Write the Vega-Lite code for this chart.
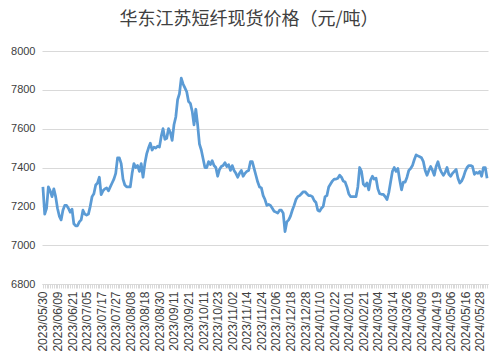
{
  "$schema": "https://vega.github.io/schema/vega-lite/v6.json",
  "width": 446,
  "height": 233,
  "autosize": {"type": "none"},
  "padding": {"left": 42, "top": 51, "right": 16, "bottom": 78},
  "background": "white",
  "title": {
    "text": "华东江苏短纤现货价格（元/吨）",
    "font": "Noto Sans CJK SC",
    "fontSize": 18,
    "fontWeight": "normal",
    "color": "#404040",
    "anchor": "middle",
    "dx": -16,
    "offset": 16
  },
  "config": {
    "view": {"stroke": null},
    "axis": {"labelFont": "Liberation Sans", "labelColor": "#404040"}
  },
  "data": {
    "values": [
      {"d":"2023/05/30","v":7300},{"d":"2023/05/31","v":7160},{"d":"2023/06/01","v":7190},{"d":"2023/06/02","v":7300},
      {"d":"2023/06/05","v":7280},{"d":"2023/06/06","v":7250},{"d":"2023/06/07","v":7290},{"d":"2023/06/08","v":7250},
      {"d":"2023/06/09","v":7190},{"d":"2023/06/12","v":7150},{"d":"2023/06/13","v":7130},{"d":"2023/06/14","v":7180},
      {"d":"2023/06/15","v":7205},{"d":"2023/06/16","v":7205},{"d":"2023/06/19","v":7190},{"d":"2023/06/20","v":7170},
      {"d":"2023/06/21","v":7185},{"d":"2023/06/26","v":7110},{"d":"2023/06/27","v":7100},{"d":"2023/06/28","v":7100},
      {"d":"2023/06/29","v":7120},{"d":"2023/06/30","v":7130},{"d":"2023/07/03","v":7180},{"d":"2023/07/04","v":7160},
      {"d":"2023/07/05","v":7155},{"d":"2023/07/06","v":7160},{"d":"2023/07/07","v":7200},{"d":"2023/07/10","v":7250},
      {"d":"2023/07/11","v":7265},{"d":"2023/07/12","v":7310},{"d":"2023/07/13","v":7320},{"d":"2023/07/14","v":7350},
      {"d":"2023/07/17","v":7260},{"d":"2023/07/18","v":7280},{"d":"2023/07/19","v":7290},{"d":"2023/07/20","v":7295},
      {"d":"2023/07/21","v":7280},{"d":"2023/07/24","v":7300},{"d":"2023/07/25","v":7320},{"d":"2023/07/26","v":7340},
      {"d":"2023/07/27","v":7370},{"d":"2023/07/28","v":7450},{"d":"2023/07/31","v":7450},{"d":"2023/08/01","v":7420},
      {"d":"2023/08/02","v":7340},{"d":"2023/08/03","v":7310},{"d":"2023/08/04","v":7300},{"d":"2023/08/07","v":7300},
      {"d":"2023/08/08","v":7300},{"d":"2023/08/09","v":7370},{"d":"2023/08/10","v":7420},{"d":"2023/08/11","v":7400},
      {"d":"2023/08/14","v":7410},{"d":"2023/08/15","v":7380},{"d":"2023/08/16","v":7420},{"d":"2023/08/17","v":7350},
      {"d":"2023/08/18","v":7420},{"d":"2023/08/21","v":7470},{"d":"2023/08/22","v":7500},{"d":"2023/08/23","v":7525},
      {"d":"2023/08/24","v":7490},{"d":"2023/08/25","v":7505},{"d":"2023/08/28","v":7500},{"d":"2023/08/29","v":7510},
      {"d":"2023/08/30","v":7505},{"d":"2023/08/31","v":7560},{"d":"2023/09/01","v":7600},{"d":"2023/09/04","v":7545},
      {"d":"2023/09/05","v":7550},{"d":"2023/09/06","v":7600},{"d":"2023/09/07","v":7580},{"d":"2023/09/08","v":7540},
      {"d":"2023/09/11","v":7620},{"d":"2023/09/12","v":7660},{"d":"2023/09/13","v":7750},{"d":"2023/09/14","v":7780},
      {"d":"2023/09/15","v":7860},{"d":"2023/09/18","v":7830},{"d":"2023/09/19","v":7810},{"d":"2023/09/20","v":7790},
      {"d":"2023/09/21","v":7740},{"d":"2023/09/22","v":7730},{"d":"2023/09/25","v":7690},{"d":"2023/09/26","v":7620},
      {"d":"2023/09/27","v":7700},{"d":"2023/09/28","v":7620},{"d":"2023/10/09","v":7520},{"d":"2023/10/10","v":7490},
      {"d":"2023/10/11","v":7445},{"d":"2023/10/12","v":7400},{"d":"2023/10/13","v":7400},{"d":"2023/10/16","v":7430},
      {"d":"2023/10/17","v":7415},{"d":"2023/10/18","v":7435},{"d":"2023/10/19","v":7410},{"d":"2023/10/20","v":7400},
      {"d":"2023/10/23","v":7355},{"d":"2023/10/24","v":7390},{"d":"2023/10/25","v":7405},{"d":"2023/10/26","v":7410},
      {"d":"2023/10/27","v":7425},{"d":"2023/10/30","v":7405},{"d":"2023/10/31","v":7415},{"d":"2023/11/01","v":7385},
      {"d":"2023/11/02","v":7410},{"d":"2023/11/03","v":7385},{"d":"2023/11/06","v":7370},{"d":"2023/11/07","v":7350},
      {"d":"2023/11/08","v":7370},{"d":"2023/11/09","v":7385},{"d":"2023/11/10","v":7355},{"d":"2023/11/13","v":7370},
      {"d":"2023/11/14","v":7380},{"d":"2023/11/15","v":7385},{"d":"2023/11/16","v":7430},{"d":"2023/11/17","v":7430},
      {"d":"2023/11/20","v":7395},{"d":"2023/11/21","v":7360},{"d":"2023/11/22","v":7325},{"d":"2023/11/23","v":7300},
      {"d":"2023/11/24","v":7295},{"d":"2023/11/27","v":7255},{"d":"2023/11/28","v":7235},{"d":"2023/11/29","v":7205},
      {"d":"2023/11/30","v":7210},{"d":"2023/12/01","v":7205},{"d":"2023/12/04","v":7190},{"d":"2023/12/05","v":7175},
      {"d":"2023/12/06","v":7170},{"d":"2023/12/07","v":7165},{"d":"2023/12/08","v":7180},{"d":"2023/12/11","v":7180},
      {"d":"2023/12/12","v":7165},{"d":"2023/12/13","v":7070},{"d":"2023/12/14","v":7120},{"d":"2023/12/15","v":7130},
      {"d":"2023/12/18","v":7150},{"d":"2023/12/19","v":7180},{"d":"2023/12/20","v":7205},{"d":"2023/12/21","v":7235},
      {"d":"2023/12/22","v":7250},{"d":"2023/12/25","v":7255},{"d":"2023/12/26","v":7265},{"d":"2023/12/27","v":7275},
      {"d":"2023/12/28","v":7275},{"d":"2023/12/29","v":7265},{"d":"2024/01/02","v":7255},{"d":"2024/01/03","v":7255},
      {"d":"2024/01/04","v":7250},{"d":"2024/01/05","v":7230},{"d":"2024/01/08","v":7220},{"d":"2024/01/09","v":7180},
      {"d":"2024/01/10","v":7175},{"d":"2024/01/11","v":7190},{"d":"2024/01/12","v":7200},{"d":"2024/01/15","v":7250},
      {"d":"2024/01/16","v":7255},{"d":"2024/01/17","v":7300},{"d":"2024/01/18","v":7315},{"d":"2024/01/19","v":7330},
      {"d":"2024/01/22","v":7340},{"d":"2024/01/23","v":7340},{"d":"2024/01/24","v":7345},{"d":"2024/01/25","v":7360},
      {"d":"2024/01/26","v":7350},{"d":"2024/01/29","v":7330},{"d":"2024/01/30","v":7325},{"d":"2024/01/31","v":7300},
      {"d":"2024/02/01","v":7265},{"d":"2024/02/02","v":7250},{"d":"2024/02/05","v":7250},{"d":"2024/02/06","v":7250},
      {"d":"2024/02/07","v":7250},{"d":"2024/02/08","v":7300},{"d":"2024/02/19","v":7400},{"d":"2024/02/20","v":7380},
      {"d":"2024/02/21","v":7315},{"d":"2024/02/22","v":7305},{"d":"2024/02/23","v":7320},{"d":"2024/02/26","v":7285},
      {"d":"2024/02/27","v":7335},{"d":"2024/02/28","v":7355},{"d":"2024/02/29","v":7340},{"d":"2024/03/01","v":7345},
      {"d":"2024/03/04","v":7290},{"d":"2024/03/05","v":7265},{"d":"2024/03/06","v":7262},{"d":"2024/03/07","v":7262},
      {"d":"2024/03/08","v":7250},{"d":"2024/03/11","v":7235},{"d":"2024/03/12","v":7270},{"d":"2024/03/13","v":7325},
      {"d":"2024/03/14","v":7380},{"d":"2024/03/15","v":7400},{"d":"2024/03/18","v":7380},{"d":"2024/03/19","v":7395},
      {"d":"2024/03/20","v":7335},{"d":"2024/03/21","v":7285},{"d":"2024/03/22","v":7325},{"d":"2024/03/25","v":7325},
      {"d":"2024/03/26","v":7350},{"d":"2024/03/27","v":7385},{"d":"2024/03/28","v":7395},{"d":"2024/03/29","v":7410},
      {"d":"2024/04/01","v":7440},{"d":"2024/04/02","v":7465},{"d":"2024/04/03","v":7460},{"d":"2024/04/08","v":7455},
      {"d":"2024/04/09","v":7450},{"d":"2024/04/10","v":7430},{"d":"2024/04/11","v":7385},{"d":"2024/04/12","v":7360},
      {"d":"2024/04/15","v":7385},{"d":"2024/04/16","v":7405},{"d":"2024/04/17","v":7385},{"d":"2024/04/18","v":7360},
      {"d":"2024/04/19","v":7405},{"d":"2024/04/22","v":7430},{"d":"2024/04/23","v":7395},{"d":"2024/04/24","v":7375},
      {"d":"2024/04/25","v":7360},{"d":"2024/04/26","v":7375},{"d":"2024/04/29","v":7400},{"d":"2024/04/30","v":7365},
      {"d":"2024/05/06","v":7355},{"d":"2024/05/07","v":7370},{"d":"2024/05/08","v":7380},{"d":"2024/05/09","v":7390},
      {"d":"2024/05/10","v":7345},{"d":"2024/05/13","v":7320},{"d":"2024/05/14","v":7330},{"d":"2024/05/15","v":7350},
      {"d":"2024/05/16","v":7380},{"d":"2024/05/17","v":7400},{"d":"2024/05/20","v":7410},{"d":"2024/05/21","v":7410},
      {"d":"2024/05/22","v":7405},{"d":"2024/05/23","v":7365},{"d":"2024/05/24","v":7375},{"d":"2024/05/27","v":7370},
      {"d":"2024/05/28","v":7380},{"d":"2024/05/29","v":7355},{"d":"2024/05/30","v":7400},{"d":"2024/05/31","v":7400},
      {"d":"2024/06/03","v":7345}
    ]
  },
  "mark": {"type": "line", "color": "#5b9bd5", "strokeWidth": 2.75, "strokeJoin": "round"},
  "encoding": {
    "x": {
      "field": "d",
      "type": "ordinal",
      "sort": null,
      "scale": {"type": "point", "padding": 0.5},
      "axis": {
        "title": null,
        "labelAngle": -90,
        "labelFontSize": 12,
        "labelOverlap": false,
        "labelPadding": 3,
        "labelExpr": "indexof(['2023/05/30','2023/06/09','2023/06/21','2023/07/05','2023/07/17','2023/07/27','2023/08/08','2023/08/18','2023/08/30','2023/09/11','2023/09/21','2023/10/11','2023/10/23','2023/11/02','2023/11/14','2023/11/24','2023/12/06','2023/12/18','2023/12/28','2024/01/10','2024/01/22','2024/02/01','2024/02/21','2024/03/04','2024/03/14','2024/03/26','2024/04/09','2024/04/19','2024/05/06','2024/05/16','2024/05/28'], datum.value) >= 0 ? datum.value : ''",
        "tickSize": 4,
        "tickColor": "#d9d9d9",
        "domainColor": "#d9d9d9",
        "grid": false
      }
    },
    "y": {
      "field": "v",
      "type": "quantitative",
      "scale": {"domain": [6800, 8000], "nice": false, "zero": false},
      "axis": {
        "title": null,
        "values": [6800, 7000, 7200, 7400, 7600, 7800, 8000],
        "format": "d",
        "labelFontSize": 11,
        "labelPadding": 7,
        "tickSize": 0,
        "domain": false,
        "gridColor": "#d9d9d9",
        "gridWidth": 1
      }
    }
  }
}
